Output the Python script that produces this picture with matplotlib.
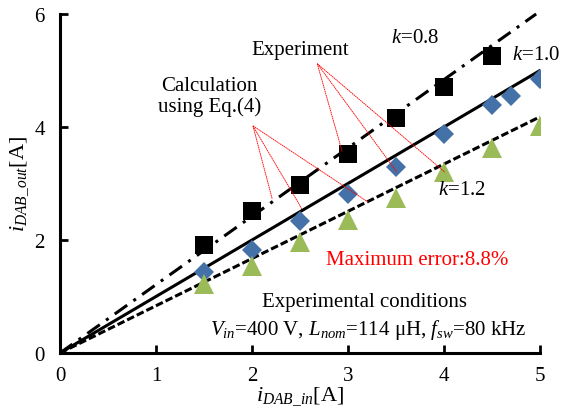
import matplotlib
matplotlib.use("Agg")
from matplotlib import pyplot as plt

plt.rcParams['font.family'] = ['Liberation Serif', 'DejaVu Serif']
plt.rcParams['mathtext.fontset'] = 'custom'
plt.rcParams['mathtext.rm'] = 'Liberation Serif'
plt.rcParams['mathtext.it'] = 'Liberation Serif:italic'
plt.rcParams['font.size'] = 15

# experiment data
x_k08 = [1.5, 2.0, 2.5, 3.0, 3.5, 4.0, 4.5]
y_k08 = [1.91, 2.52, 2.97, 3.52, 4.16, 4.71, 5.26]
x_k10 = [1.5, 2.0, 2.5, 3.0, 3.5, 4.0, 4.5, 4.7, 5.0]
y_k10 = [1.43, 1.82, 2.34, 2.82, 3.29, 3.88, 4.39, 4.55, 4.85]
x_k12 = [1.5, 2.0, 2.5, 3.0, 3.5, 4.0, 4.5, 5.0]
y_k12 = [1.22, 1.54, 1.96, 2.35, 2.74, 3.21, 3.62, 4.02]

# calculation (Eq.(4))
calc_x08 = [0, 4.96]
calc_y08 = [0, 6.0]
calc_x = [0, 5]
calc_y10 = [0, 5.0]
calc_y12 = [0, 4.18]

fig = plt.figure(figsize=(5.79, 4.14), dpi=100)
ax = fig.add_axes([0.1036, 0.1449, 0.8290, 0.8189])

ax.plot(calc_x08, calc_y08, color='black', lw=2.2, ls=(0, (5, 2.5, 1, 2.5)), clip_on=False)
ax.plot(calc_x, calc_y10, color='black', lw=2.2, ls='-')
ax.plot(calc_x, calc_y12, color='black', lw=2.2, ls=(0, (2.5, 1)))

ax.plot(x_k08, y_k08, 's', color='black', ms=12.5, mew=0, zorder=3)
ax.plot(x_k10, y_k10, 'D', color='#4472A8', ms=10.5, mew=0, zorder=3)
ax.plot(x_k12, y_k12, '^', color='#9BBB59', ms=14, mew=0, zorder=3)

# annotation leader lines
red = dict(color='red', lw=0.6, ls=(0, (2, 0.6)))
exp_from = (2.68, 5.12)
for pt in [(2.94, 3.56), (3.51, 3.20), (4.01, 3.20)]:
    ax.plot([exp_from[0], pt[0]], [exp_from[1], pt[1]], zorder=4, **red)
calc_from = (2.01, 4.02)
for pt in [(2.21, 2.73), (2.52, 2.55), (3.21, 2.67)]:
    ax.plot([calc_from[0], pt[0]], [calc_from[1], pt[1]], zorder=4, **red)

ax.text(2.5, 5.38, 'Experiment', ha='center', va='center')
ax.text(1.56, 4.55, 'Calculation\nusing Eq.(4)', ha='center', va='center', linespacing=1.05)
ax.text(3.70, 5.59, '$k$=0.8', ha='center', va='center')
ax.text(4.96, 5.29, '$k$=1.0', ha='center', va='center')
ax.text(4.19, 2.90, '$k$=1.2', ha='center', va='center')
ax.text(3.72, 1.66, 'Maximum error:8.8%', ha='center', va='center', color='red')
ax.text(3.17, 0.92, 'Experimental conditions', ha='center', va='center')
ax.text(4.86, 0.42, r'$V_{in}$=400 V, $L_{nom}$=114 μH, $f_{sw}$=80 kHz',
        ha='right', va='center')

ax.set_xlim(0, 5)
ax.set_ylim(0, 6)
ax.set_xticks([0, 1, 2, 3, 4, 5])
ax.set_yticks([0, 2, 4, 6])
ax.spines['top'].set_visible(False)
ax.spines['right'].set_visible(False)
ax.spines['left'].set_linewidth(2.2)
ax.spines['bottom'].set_linewidth(2.2)
ax.tick_params(direction='in', width=2, length=6, pad=9)
ax.tick_params(axis='y', pad=11)

ax.set_xlabel(r'$i_{DAB\_in}$[A]', labelpad=0, fontsize=16)
ax.set_ylabel(r'$i_{DAB\_out}$[A]', labelpad=2, fontsize=16)

fig.savefig('out.png', dpi=100)
